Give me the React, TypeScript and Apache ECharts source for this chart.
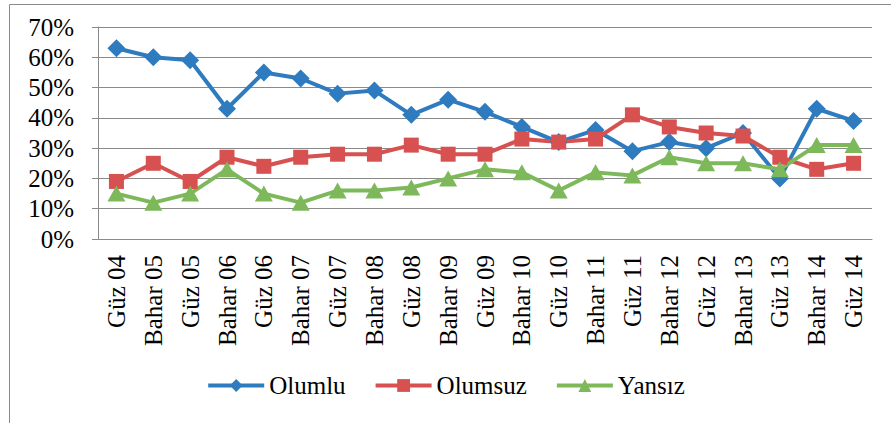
import React, { useEffect, useRef } from "react";
import * as echarts from "echarts";

const categories = [
  "Güz 04", "Bahar 05", "Güz 05", "Bahar 06", "Güz 06", "Bahar 07", "Güz 07",
  "Bahar 08", "Güz 08", "Bahar 09", "Güz 09", "Bahar 10", "Güz 10", "Bahar 11",
  "Güz 11", "Bahar 12", "Güz 12", "Bahar 13", "Güz 13", "Bahar 14", "Güz 14",
];
const olumlu = [63, 60, 59, 43, 55, 53, 48, 49, 41, 46, 42, 37, 32, 36, 29, 32, 30, 35, 20, 43, 39];
const olumsuz = [19, 25, 19, 27, 24, 27, 28, 28, 31, 28, 28, 33, 32, 33, 41, 37, 35, 34, 27, 23, 25];
const yansiz = [15, 12, 15, 23, 15, 12, 16, 16, 17, 20, 23, 22, 16, 22, 21, 27, 25, 25, 23, 31, 31];
const seriesNames = ["Olumlu", "Olumsuz", "Yansız"];

const FONT = "Times New Roman";
const GRID_COLOR = "#8a8a8a";

export default function App() {
  const ref = useRef<HTMLDivElement>(null);
  useEffect(() => {
    if (!ref.current) return;
    const chart = echarts.init(ref.current, undefined, { renderer: "svg" });
    const mk = (name: string, data: number[], color: string, symbol: string, size: number | number[]) => ({
      name,
      type: "line",
      data,
      symbol,
      symbolSize: size,
      showAllSymbol: true,
      lineStyle: { color, width: 4 },
      itemStyle: { color },
    });
    chart.setOption({
      animation: false,
      textStyle: { fontFamily: FONT },
      graphic: [
        { type: "line", shape: { x1: 9.5, y1: 4.5, x2: 891, y2: 4.5 }, style: { stroke: "#8a8a8a", lineWidth: 1 } },
        { type: "line", shape: { x1: 9.5, y1: 4.5, x2: 9.5, y2: 423 }, style: { stroke: "#8a8a8a", lineWidth: 1 } },
      ],
      grid: { left: 98, right: 19, top: 27, bottom: 184, containLabel: false },
      legend: {
        data: seriesNames,
        top: 368,
        left: "center",
        itemWidth: 56,
        itemHeight: 16,
        itemGap: 28,
        lineStyle: { width: 4 },
        textStyle: { fontFamily: FONT, fontSize: 25, color: "#000" },
      },
      xAxis: {
        type: "category",
        data: categories,
        boundaryGap: true,
        axisLine: { lineStyle: { color: GRID_COLOR, width: 1 } },
        axisTick: { alignWithLabel: false, length: 6, lineStyle: { color: GRID_COLOR } },
        axisLabel: {
          interval: 0,
          rotate: 90,
          margin: 16,
          fontFamily: FONT,
          fontSize: 25,
          color: "#000",
        },
      },
      yAxis: {
        type: "value",
        min: 0,
        max: 70,
        interval: 10,
        axisLine: { show: true, lineStyle: { color: GRID_COLOR, width: 1 } },
        axisTick: { show: true, length: 6, lineStyle: { color: GRID_COLOR } },
        splitLine: { lineStyle: { color: GRID_COLOR, width: 1 } },
        axisLabel: {
          formatter: "{value}%",
          margin: 24,
          fontFamily: FONT,
          fontSize: 25,
          color: "#000",
        },
      },
      series: [
        mk(seriesNames[0], olumlu, "#2e7bbf", "diamond", 18),
        mk(seriesNames[1], olumsuz, "#d6514f", "rect", 15),
        mk(seriesNames[2], yansiz, "#7db95a", "triangle", [18, 16]),
      ],
    });
    return () => chart.dispose();
  }, []);
  return (
    <div
      ref={ref}
      style={{ position: "fixed", left: 0, top: 0, width: 891, height: 423, background: "#fff" }}
    />
  );
}
